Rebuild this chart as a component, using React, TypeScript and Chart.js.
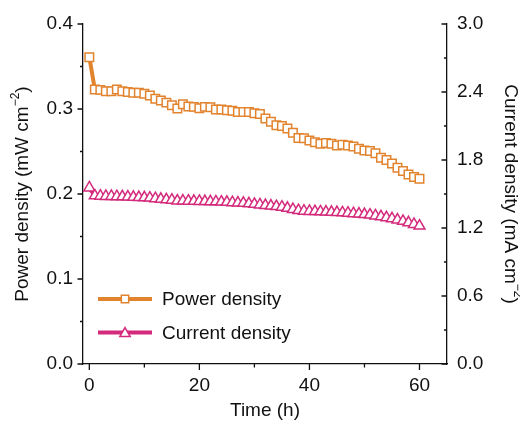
import React, { useEffect, useRef } from "react";
import { Chart, registerables } from "chart.js";

Chart.register(...registerables);

const timeH = [
  0, 1, 2, 3, 4, 5, 6, 7, 8, 9, 10, 11, 12, 13, 14, 15, 16, 17, 18, 19, 20,
  21, 22, 23, 24, 25, 26, 27, 28, 29, 30, 31, 32, 33, 34, 35, 36, 37, 38, 39, 40,
  41, 42, 43, 44, 45, 46, 47, 48, 49, 50, 51, 52, 53, 54, 55, 56, 57, 58, 59, 60,
];

const powerDensity = [
  0.361, 0.323, 0.3225, 0.321, 0.321, 0.323, 0.321, 0.32, 0.319, 0.319, 0.318,
  0.316, 0.312, 0.31, 0.3075, 0.3045, 0.3005, 0.3055, 0.303, 0.3025, 0.301,
  0.3025, 0.302, 0.2993, 0.2993, 0.2985, 0.298, 0.2965, 0.2965, 0.2965, 0.295,
  0.294, 0.2887, 0.285, 0.281, 0.28, 0.277, 0.272, 0.266, 0.2655, 0.263,
  0.261, 0.259, 0.26, 0.259, 0.257, 0.258, 0.257, 0.256, 0.2533, 0.2513,
  0.2505, 0.248, 0.2427, 0.24, 0.236, 0.231, 0.227, 0.223, 0.22, 0.218,
];

const currentDensity = [
  1.555, 1.485, 1.482, 1.48, 1.48, 1.478, 1.477, 1.475, 1.472, 1.47, 1.468,
  1.465, 1.46, 1.455, 1.45, 1.447, 1.44, 1.44, 1.438, 1.437, 1.436,
  1.435, 1.433, 1.432, 1.43, 1.428, 1.425, 1.422, 1.42, 1.415, 1.41,
  1.405, 1.4, 1.395, 1.39, 1.385, 1.375, 1.365, 1.355, 1.35, 1.348,
  1.346, 1.344, 1.342, 1.34, 1.338, 1.335, 1.332, 1.328, 1.325, 1.32,
  1.315, 1.308, 1.3, 1.292, 1.283, 1.272, 1.26, 1.247, 1.233, 1.218,
];

const xTicks = [0, 20, 40, 60];
const xMinorTicks = [10, 30, 50];
const powerTicks = [0, 0.1, 0.2, 0.3, 0.4];
const powerMinorTicks = [0.05, 0.15, 0.25, 0.35];
const currentTicks = [0, 0.6, 1.2, 1.8, 2.4, 3.0];
const currentMinorTicks = [0.3, 0.9, 1.5, 2.1, 2.7];

const seriesNames = ["Power density", "Current density"];
const ORANGE = "#E2832E";
const PINK = "#D42A7C";
const FONT = "'Liberation Sans', Arial, Helvetica, sans-serif";
const FS = 19;

function drawMarker(ctx: CanvasRenderingContext2D, style: string, x: number, y: number, r: number, color: string) {
  ctx.save();
  ctx.beginPath();
  if (style === "rect") {
    const s = Math.SQRT1_2 * r;
    ctx.rect(x - s, y - s, 2 * s, 2 * s);
  } else {
    ctx.moveTo(x, y - r);
    ctx.lineTo(x + 0.866 * r, y + r / 2);
    ctx.lineTo(x - 0.866 * r, y + r / 2);
    ctx.closePath();
  }
  ctx.fillStyle = "#fff";
  ctx.fill();
  ctx.lineWidth = 1.5;
  ctx.strokeStyle = color;
  ctx.stroke();
  ctx.restore();
}

function drawTitle(ctx: CanvasRenderingContext2D, cx: number, cy: number, angle: number, main: string, sup: string, size: number) {
  ctx.save();
  ctx.translate(cx, cy);
  ctx.rotate(angle);
  ctx.fillStyle = "#111";
  ctx.textBaseline = "middle";
  ctx.textAlign = "left";
  const big = `${size}px ${FONT}`;
  const small = `${Math.round(size * 0.65)}px ${FONT}`;
  ctx.font = big;
  const w1 = ctx.measureText(main).width;
  const w3 = ctx.measureText(")").width;
  ctx.font = small;
  const w2 = ctx.measureText(sup).width;
  let x = -(w1 + w2 + w3) / 2;
  ctx.font = big;
  ctx.fillText(main, x, 0);
  x += w1;
  ctx.font = small;
  ctx.fillText(sup, x, -size * 0.38);
  x += w2;
  ctx.font = big;
  ctx.fillText(")", x, 0);
  ctx.restore();
}

const decorPlugin = {
  id: "decor",
  afterDraw(chart: any) {
    const ctx: CanvasRenderingContext2D = chart.ctx;
    const xs = chart.scales.x;
    const ys = chart.scales.y;
    const y1 = chart.scales.y1;
    const area = chart.chartArea;
    ctx.save();
    ctx.strokeStyle = "#111";
    ctx.lineWidth = 1.3;
    ctx.beginPath();
    xTicks.forEach((v) => {
      const p = xs.getPixelForValue(v);
      ctx.moveTo(p, area.bottom);
      ctx.lineTo(p, area.bottom + 6);
    });
    xMinorTicks.forEach((v) => {
      const p = xs.getPixelForValue(v);
      ctx.moveTo(p, area.bottom);
      ctx.lineTo(p, area.bottom + 3.5);
    });
    powerTicks.forEach((v) => {
      const p = ys.getPixelForValue(v);
      ctx.moveTo(area.left, p);
      ctx.lineTo(area.left - 5.5, p);
    });
    powerMinorTicks.forEach((v) => {
      const p = ys.getPixelForValue(v);
      ctx.moveTo(area.left, p);
      ctx.lineTo(area.left - 3, p);
    });
    currentTicks.forEach((v) => {
      const p = y1.getPixelForValue(v);
      ctx.moveTo(area.right, p);
      ctx.lineTo(area.right - 5.5, p);
    });
    currentMinorTicks.forEach((v) => {
      const p = y1.getPixelForValue(v);
      ctx.moveTo(area.right, p);
      ctx.lineTo(area.right - 3, p);
    });
    ctx.stroke();
    ctx.restore();

    // axis titles
    drawTitle(ctx, 23, 194, -Math.PI / 2, "Power density (mW cm", "\u22122", FS);
    drawTitle(ctx, 510, 194, Math.PI / 2, "Current density (mA cm", "\u22122", FS);
    ctx.save();
    ctx.fillStyle = "#111";
    ctx.font = `${FS}px ${FONT}`;
    ctx.textAlign = "center";
    ctx.textBaseline = "middle";
    ctx.fillText("Time (h)", (area.left + area.right) / 2, 411);
    ctx.restore();

    // legend
    const rows = [
      { name: seriesNames[0], color: ORANGE, style: "rect", r: 5.2, y: area.top + 275 },
      { name: seriesNames[1], color: PINK, style: "triangle", r: 6, y: area.top + 308.5 },
    ];
    rows.forEach((row) => {
      ctx.save();
      ctx.strokeStyle = row.color;
      ctx.lineWidth = 4;
      ctx.beginPath();
      ctx.moveTo(area.left + 15, row.y);
      ctx.lineTo(area.left + 69, row.y);
      ctx.stroke();
      ctx.restore();
      drawMarker(ctx, row.style, area.left + 42, row.y + (row.style === "triangle" ? 1 : 0), row.r, row.color);
      ctx.save();
      ctx.fillStyle = "#111";
      ctx.font = `19px ${FONT}`;
      ctx.textAlign = "left";
      ctx.textBaseline = "middle";
      ctx.fillText(row.name, area.left + 79, row.y + 1);
      ctx.restore();
    });
  },
};

export default function App() {
  const ref = useRef<HTMLCanvasElement>(null);
  useEffect(() => {
    if (!ref.current) return;
    const chart = new Chart(ref.current, {
      type: "line",
      data: {
        datasets: [
          {
            label: seriesNames[0],
            data: timeH.map((t, i) => ({ x: t, y: powerDensity[i] })),
            yAxisID: "y",
            borderColor: ORANGE,
            backgroundColor: "#fff",
            borderWidth: 4,
            pointStyle: "rect",
            pointRadius: 6,
            pointBorderWidth: 1.5,
            pointBackgroundColor: "#fff",
            pointBorderColor: ORANGE,
            tension: 0,
          },
          {
            label: seriesNames[1],
            data: timeH.map((t, i) => ({ x: t, y: currentDensity[i] })),
            yAxisID: "y1",
            borderColor: PINK,
            backgroundColor: "#fff",
            borderWidth: 4,
            pointStyle: "triangle",
            pointRadius: 6.3,
            pointBorderWidth: 1.5,
            pointBackgroundColor: "#fff",
            pointBorderColor: PINK,
            tension: 0,
          },
        ],
      },
      options: {
        animation: false,
        responsive: false,
        events: [],
        layout: { padding: { top: 24, left: 0, right: 0, bottom: 0 } },
        plugins: { legend: { display: false }, tooltip: { enabled: false }, title: { display: false } },
        scales: {
          x: {
            type: "linear",
            min: -1.15,
            max: 65,
            grid: { display: false, drawTicks: false },
            border: { display: true, color: "#111", width: 1.3 },
            ticks: { color: "#111", font: { family: FONT, size: FS }, padding: 10, callback: (v: any) => String(v) },
            afterBuildTicks: (s: any) => { s.ticks = xTicks.map((v) => ({ value: v })); },
            afterFit: (s: any) => { s.height = 58; },
          },
          y: {
            type: "linear",
            position: "left",
            min: 0,
            max: 0.4,
            grid: { display: false, drawTicks: false },
            border: { display: true, color: "#111", width: 1.3 },
            ticks: { color: "#111", font: { family: FONT, size: FS }, padding: 10, callback: (v: any) => Number(v).toFixed(1) },
            afterBuildTicks: (s: any) => { s.ticks = powerTicks.map((v) => ({ value: v })); },
            afterFit: (s: any) => { s.width = 83; },
          },
          y1: {
            type: "linear",
            position: "right",
            min: 0,
            max: 3.0,
            grid: { display: false, drawTicks: false },
            border: { display: true, color: "#111", width: 1.3 },
            ticks: { color: "#111", font: { family: FONT, size: FS }, padding: 10, callback: (v: any) => Number(v).toFixed(1) },
            afterBuildTicks: (s: any) => { s.ticks = currentTicks.map((v) => ({ value: v })); },
            afterFit: (s: any) => { s.width = 73; },
          },
        },
      },
      plugins: [decorPlugin],
    });
    return () => chart.destroy();
  }, []);
  return (
    <div style={{ position: "absolute", left: 0, top: 0, width: 520, height: 422, background: "#fff" }}>
      <canvas ref={ref} width={520} height={422} style={{ display: "block" }} />
    </div>
  );
}
